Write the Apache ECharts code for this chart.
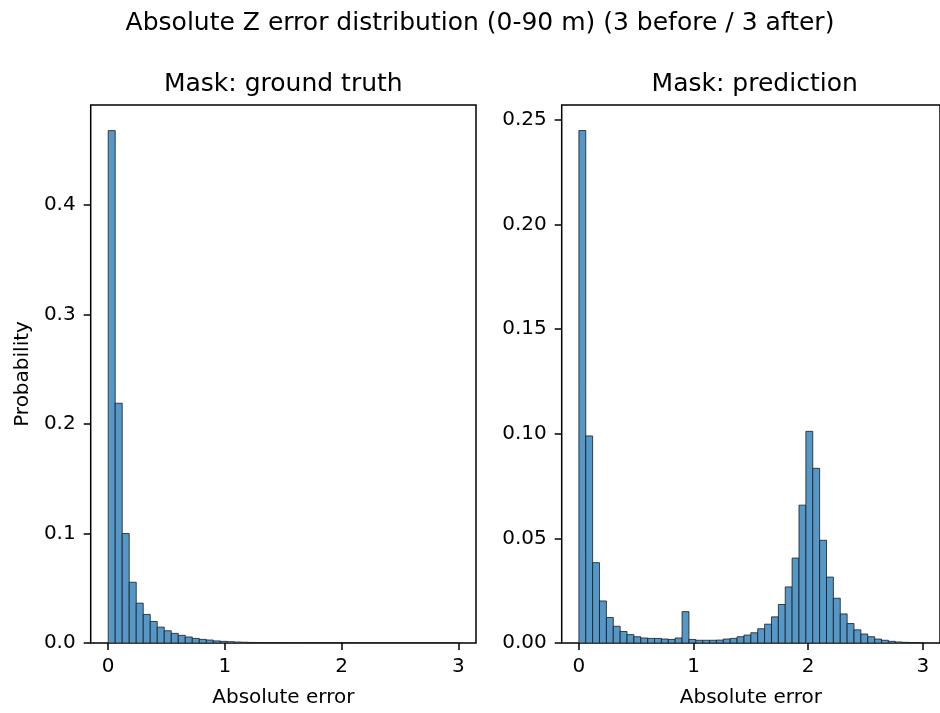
<!DOCTYPE html>
<html>
<head>
<meta charset="utf-8">
<script src="https://cdn.jsdelivr.net/npm/echarts@6/dist/echarts.min.js"></script>
<style>html,body{margin:0;padding:0;background:#fff}#c{width:940px;height:713px}</style>
</head>
<body>
<div id="c"></div>
<script>
// ---- data ----
const suptitle = 'Absolute Z error distribution (0-90 m) (3 before / 3 after)';
const panelTitles = ['Mask: ground truth', 'Mask: prediction'];
const xLabel = 'Absolute error';
const yLabel = 'Probability';
const binStart = 0;
const binWidth = 0.06;
const xTicks = [0, 1, 2, 3];
const yTicksLeft = [0, 0.1, 0.2, 0.3, 0.4];
const yTicksRight = [0, 0.05, 0.10, 0.15, 0.20, 0.25];
const groundTruth = [
  0.468, 0.219, 0.100, 0.0555, 0.0364, 0.0261, 0.0197, 0.0145, 0.0112, 0.0088,
  0.0070, 0.0055, 0.0042, 0.0033, 0.0027, 0.0019, 0.0015, 0.0012, 0.0009, 0.0007,
  0.0005, 0.0004, 0.0003, 0.0002, 0.00015, 0.0001, 0.00008, 0.00006, 0.00004, 0.00003,
  0.00002, 0.00002, 0.00001, 0.00001, 0.00001, 0, 0, 0, 0, 0,
  0, 0, 0, 0, 0, 0, 0, 0, 0, 0
];
const prediction = [
  0.245, 0.099, 0.0384, 0.0201, 0.0122, 0.0080, 0.0055, 0.0040, 0.0030, 0.0024,
  0.0022, 0.0022, 0.0019, 0.0017, 0.0024, 0.0150, 0.0017, 0.0013, 0.0013, 0.0013,
  0.0014, 0.0019, 0.0022, 0.0030, 0.0038, 0.0049, 0.0068, 0.0090, 0.0125, 0.0184,
  0.0268, 0.0406, 0.0659, 0.1012, 0.0835, 0.0491, 0.0315, 0.0214, 0.0139, 0.0093,
  0.0063, 0.0043, 0.0030, 0.0019, 0.0013, 0.0008, 0.0005, 0.0003, 0.0002, 0.0001
];

function toBins(vals) {
  return vals.map((v, i) => [binStart + i * binWidth, binStart + (i + 1) * binWidth, v]);
}

const FONT = 'DejaVu Sans';
const fill = '#5597c7';
const edge = '#1a1a1a';

function renderItem(params, api) {
  const x0 = api.value(0), x1 = api.value(1), y = api.value(2);
  const p0 = api.coord([x0, y]);
  const p1 = api.coord([x1, 0]);
  return {
    type: 'rect',
    shape: { x: p0[0], y: p0[1], width: p1[0] - p0[0], height: p1[1] - p0[1] },
    style: { fill: fill, stroke: edge, lineWidth: 0.8 }
  };
}

const tickFont = { fontFamily: FONT, fontSize: 20, color: '#000' };

function xAxis(idx) {
  return {
    type: 'value', gridIndex: idx, min: -0.15, max: 3.15,
    name: xLabel, nameLocation: 'middle', nameGap: 45,
    nameTextStyle: { fontFamily: FONT, fontSize: 20, color: '#000' },
    axisLine: { show: false, onZero: false },
    axisTick: { show: true, length: 7, lineStyle: { color: '#000', width: 1.5 }, customValues: xTicks },
    axisLabel: Object.assign({ margin: 14, customValues: xTicks, formatter: v => String(v) }, tickFont),
    splitLine: { show: false }
  };
}
function yAxis(idx, max, ticks, dec, withName) {
  return {
    type: 'value', gridIndex: idx, min: 0, max: max,
    name: withName ? yLabel : '', nameLocation: 'middle', nameGap: 58,
    nameTextStyle: { fontFamily: FONT, fontSize: 20, color: '#000' },
    axisLine: { show: false, onZero: false },
    axisTick: { show: true, length: 7, lineStyle: { color: '#000', width: 1.5 }, customValues: ticks },
    axisLabel: Object.assign({ margin: 15, customValues: ticks, formatter: v => v.toFixed(dec) }, tickFont),
    splitLine: { show: false }
  };
}

const chart = echarts.init(document.getElementById('c'), null, { renderer: 'canvas' });
chart.setOption({
  animation: false,
  backgroundColor: '#fff',
  grid: [
    { left: 90.7, top: 105, width: 385.3, height: 541, show: true, borderColor: '#000', borderWidth: 1.5, backgroundColor: 'transparent' },
    { left: 561.7, top: 105, width: 386, height: 541, show: true, borderColor: '#000', borderWidth: 1.5, backgroundColor: 'transparent' }
  ],
  xAxis: [xAxis(0), xAxis(1)],
  yAxis: [yAxis(0, 0.4914, yTicksLeft, 1, true), yAxis(1, 0.2572, yTicksRight, 2, false)],
  series: [
    { type: 'custom', xAxisIndex: 0, yAxisIndex: 0, renderItem: renderItem, encode: { x: [0, 1], y: 2 }, data: toBins(groundTruth), clip: true },
    { type: 'custom', xAxisIndex: 1, yAxisIndex: 1, renderItem: renderItem, encode: { x: [0, 1], y: 2 }, data: toBins(prediction), clip: true }
  ],
  graphic: [
    { type: 'text', x: 480, y: 23, style: { text: suptitle, fontFamily: FONT, fontSize: 25, fill: '#000', textAlign: 'center', textVerticalAlign: 'middle' } },
    { type: 'text', x: 283.3, y: 84, style: { text: panelTitles[0], fontFamily: FONT, fontSize: 25, fill: '#000', textAlign: 'center', textVerticalAlign: 'middle' } },
    { type: 'text', x: 754.7, y: 84, style: { text: panelTitles[1], fontFamily: FONT, fontSize: 25, fill: '#000', textAlign: 'center', textVerticalAlign: 'middle' } }
  ]
});
</script>
</body>
</html>
